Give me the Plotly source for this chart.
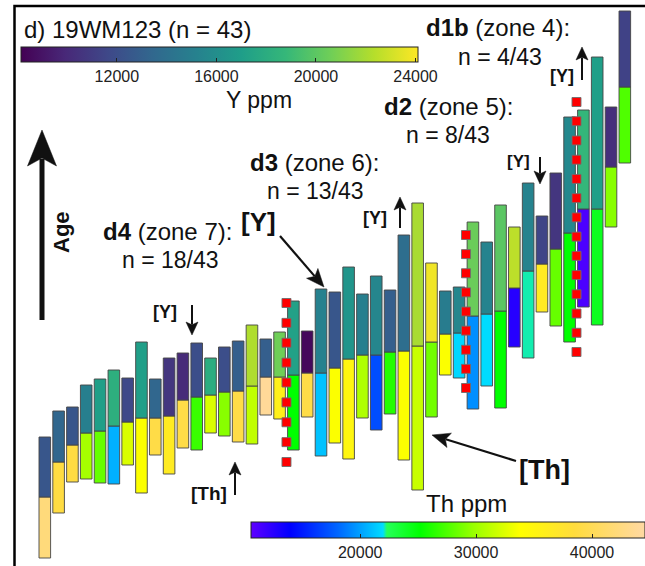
import numpy as np
import plotly.graph_objects as go

W, H = 645, 566

# ---------------- data ----------------
grain = list(range(1, 44))
# relative age-rank positions of each grain's column (top, Y/Th boundary, bottom)
seg_top = [129, 155, 159, 181, 187, 196, 188, 224, 187, 208, 213, 223, 208, 219, 225,
           241, 227, 234, 265, 235, 277, 274, 299, 272, 290, 276, 331, 363, 303, 275,
           279, 344, 324, 361, 339, 383, 350, 393, 449, 456, 509, 459, 555]
seg_split = [69, 104, 121, 133, 135, 140, 144, 148, 148, 150, 166, 169, 171, 174, 175,
             180, 189, 189, 191, 193, 193, 198, 207, 211, 211, 214, 215, 220, 224, 232,
             233, 250, 252, 255, 278, 295, 302, 317, 333, 357, 357, 399, 479]
seg_bottom = [8, 53, 84, 87, 83, 82, 101, 73, 111, 92, 118, 116, 133, 130, 124,
              122, 151, 147, 116, 149, 110, 123, 107, 148, 136, 152, 106, 76, 149, 191,
              188, 157, 180, 158, 219, 208, 254, 240, 224, 259, 241, 339, 403]
y_ppm = [12460, 13410, 12460, 15010, 17080, 18200, 11660, 17080, 13410, 10700, 10060,
         11980, 18040, 11980, 12940, 22190, 12940, 20590, 17240, 8470, 15170, 12460,
         16440, 15010, 15490, 12940, 13890, 22030, 23780, 14850, 15490, 20430, 15330,
         19950, 22500, 15330, 11500, 10700, 15650, 18680, 17080, 10220, 11340]
th_ppm = [42190, 38790, 38790, 30290, 28250, 20500, 32330, 33690, 39130, 36410, 39130,
          26890, 32330, 29270, 39130, 31310, 43890, 35730, 25200, 39130, 21120, 33690,
          35050, 30630, 17040, 26210, 33690, 31650, 28600, 33690, 21800, 19420, 21960,
          25200, 12620, 22130, 36410, 28250, 25200, 11260, 24180, 29270, 27570]

y_cmin, y_cmax = 8150, 24100
th_cmin, th_cmax = 10578, 44570
y_ticks = [12000, 16000, 20000, 24000]
th_ticks = [20000, 30000, 40000]

# zone boundaries (between grains) and extent of the dotted separators
zone_x = [18.5, 31.5, 39.5]
zone_hi = [263, 331, 464]
zone_lo = [104, 178, 214]
zone_nmark = [9, 9, 14]

th_scale = [[0.0, '#5f00ff'], [0.10, '#0000ff'], [0.22, '#0066ff'], [0.335, '#00dcff'],
            [0.345, '#26ff5a'], [0.43, '#00ff00'], [0.565, '#99ff00'], [0.683, '#ffff00'],
            [0.82, '#ffdc3c'], [1.0, '#ffd9a3']]

FONT = "Liberation Sans, Arial, sans-serif"

# ---------------- pixel helpers for layout ----------------
PITCH = 13.81
X0PX = 44.8
xr = [1 - X0PX / PITCH, 1 + (W - X0PX) / PITCH]


def P(x, y):
    return x / W, 1 - y / H


fig = go.Figure()

bottom_arr = np.array(seg_bottom)
split_arr = np.array(seg_split)
top_arr = np.array(seg_top)

fig.add_trace(go.Bar(
    x=grain, y=split_arr - bottom_arr, base=bottom_arr, width=0.84,
    marker=dict(color=th_ppm, colorscale=th_scale, cmin=th_cmin, cmax=th_cmax,
                line=dict(color='rgba(70,70,70,0.9)', width=1),
                colorbar=dict(orientation='h', x=P(251, 0)[0], xanchor='left',
                              y=P(0, 522)[1], yanchor='top', len=(W - 251) / W,
                              lenmode='fraction', thickness=16, xpad=0, ypad=0,
                              outlinewidth=1, outlinecolor='#222',
                              tickvals=th_ticks, tickformat='d', ticks='inside', ticklen=4,
                              tickcolor='#222',
                              tickfont=dict(family=FONT, size=16, color='#222'))),
    showlegend=False, hoverinfo='skip'))

fig.add_trace(go.Bar(
    x=grain, y=top_arr - split_arr, base=split_arr, width=0.84,
    marker=dict(color=y_ppm, colorscale='Viridis', cmin=y_cmin, cmax=y_cmax,
                line=dict(color='rgba(70,70,70,0.9)', width=1),
                colorbar=dict(orientation='h', x=P(21, 0)[0], xanchor='left',
                              y=P(0, 47)[1], yanchor='top', len=397 / W,
                              lenmode='fraction', thickness=15, xpad=0, ypad=0,
                              outlinewidth=1, outlinecolor='#222',
                              tickvals=y_ticks, tickformat='d', ticks='inside', ticklen=4,
                              tickcolor='#222',
                              tickfont=dict(family=FONT, size=16, color='#222'))),
    showlegend=False, hoverinfo='skip'))

# dotted zone separators
for zx, hi, lo, n in zip(zone_x, zone_hi, zone_lo, zone_nmark):
    ys = np.linspace(lo, hi, n)
    fig.add_trace(go.Scatter(
        x=[zx] * n, y=ys, mode='markers',
        marker=dict(symbol='square', size=9, color='#ff0000',
                    line=dict(color='rgba(110,110,110,0.9)', width=1)),
        showlegend=False, hoverinfo='skip'))

shapes = []
# frame
shapes.append(dict(type='rect', xref='paper', yref='paper',
                   x0=P(14.5, 0)[0], y0=P(0, 600)[1], x1=P(700, 0)[0], y1=P(0, 6)[1],
                   line=dict(color='black', width=2.5), fillcolor='rgba(0,0,0,0)'))


def arrow(tail, tip, L, Wd, lw):
    tx, ty = tail
    hx, hy = tip
    d = np.array([hx - tx, hy - ty], float)
    d /= np.linalg.norm(d)
    p = np.array([-d[1], d[0]])
    tipv = np.array([hx, hy], float)
    back = tipv - d * L
    notch = tipv - d * L * 0.78
    c1 = back + p * Wd
    c2 = back - p * Wd
    end = tipv - d * L * 0.8
    x0, y0 = P(tx, ty)
    x1, y1 = P(end[0], end[1])
    shapes.append(dict(type='line', xref='paper', yref='paper', x0=x0, y0=y0, x1=x1, y1=y1,
                       line=dict(color='#111', width=lw)))
    pts = [tipv, c1, notch, c2]
    path = 'M ' + ' L '.join('%f,%f' % P(q[0], q[1]) for q in pts) + ' Z'
    shapes.append(dict(type='path', xref='paper', yref='paper', path=path,
                       fillcolor='#111', line=dict(color='#111', width=0.5)))


arrow((42, 320), (42, 130), 36, 14.5, 5)       # Age
arrow((280, 236), (324, 287), 18, 7.5, 2.2)    # [Y] big
arrow((516, 461), (432, 435), 18, 7.5, 2.2)    # [Th] big
arrow((192, 305), (192, 335), 13, 6, 2)
arrow((235, 495), (235, 462), 13, 6, 2)
arrow((400, 228), (400, 197), 13, 6, 2)
arrow((540, 157), (540, 184), 13, 6, 2)
arrow((582, 80), (582, 47), 13, 6, 2)

ann = []


def txt(x, y, s, size, xanchor='center', bold=False, angle=0):
    ax, ay = P(x, y)
    ann.append(dict(x=ax, y=ay, xref='paper', yref='paper', text=('<b>%s</b>' % s) if bold else s,
                    showarrow=False, xanchor=xanchor, yanchor='middle', textangle=angle,
                    font=dict(family=FONT, size=size, color='#111')))


txt(22, 29, 'd) 19WM123 (n = 43)', 24, xanchor='left')
txt(259, 100, 'Y ppm', 23)
txt(466, 503, 'Th ppm', 24)
txt(424, 27, '<b>d1b</b> (zone 4):', 24, xanchor='left')
txt(500, 57, 'n = 4/43', 23)
txt(382, 106, '<b>d2</b> (zone 5):', 24, xanchor='left')
txt(448, 135, 'n = 8/43', 23)
txt(248, 162, '<b>d3</b> (zone 6):', 24, xanchor='left')
txt(315, 191, 'n = 13/43', 23)
txt(101, 231, '<b>d4</b> (zone 7):', 24, xanchor='left')
txt(170, 260, 'n = 18/43', 23)
txt(61, 232, 'Age', 22, bold=True, angle=-90)
txt(258, 222, '[Y]', 26, bold=True)
txt(544, 470, '[Th]', 27, bold=True)
txt(165, 312, '[Y]', 18, bold=True)
txt(209, 493, '[Th]', 19, bold=True)
txt(375, 218, '[Y]', 18, bold=True)
txt(518, 161, '[Y]', 17, bold=True)
txt(562, 76, '[Y]', 18, bold=True)

fig.update_layout(
    width=W, height=H, margin=dict(l=0, r=0, t=0, b=0, autoexpand=False),
    paper_bgcolor='white', plot_bgcolor='white', barmode='overlay',
    xaxis=dict(range=xr, visible=False, fixedrange=True),
    yaxis=dict(range=[0, H], visible=False, fixedrange=True),
    shapes=shapes, annotations=ann, showlegend=False,
    font=dict(family=FONT),
)

fig.write_html("out.html", config={'displayModeBar': False},
               post_script="document.body.style.margin='0px';document.body.style.padding='0px';")
